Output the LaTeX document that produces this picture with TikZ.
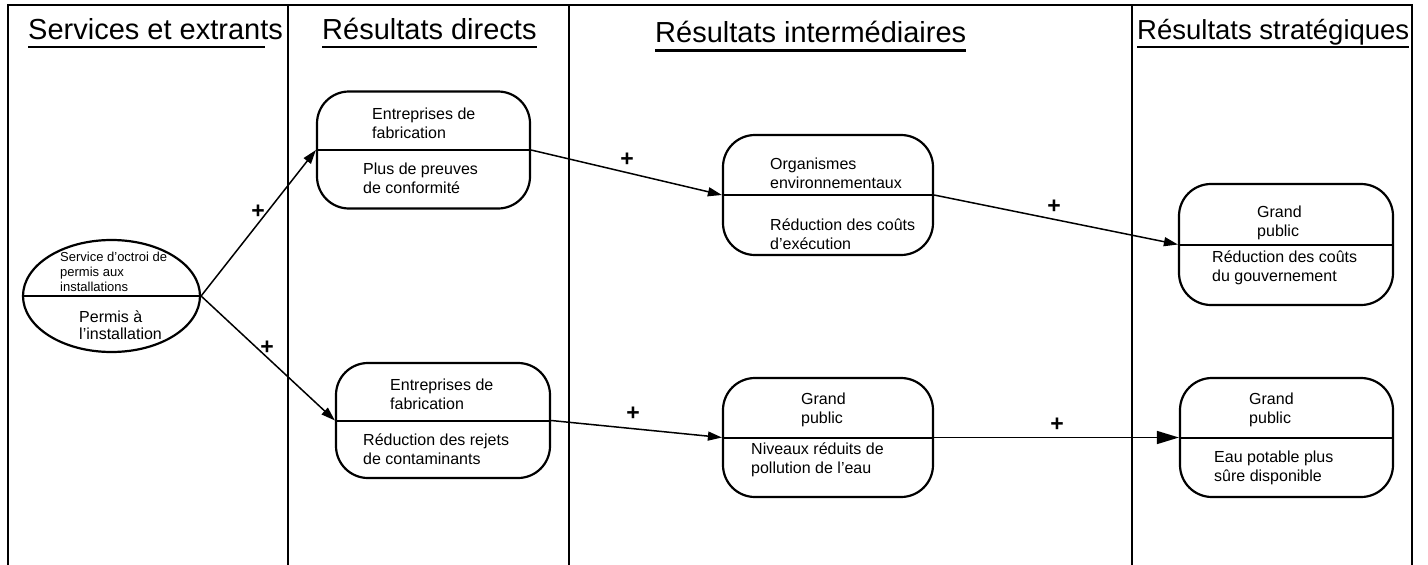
\documentclass[tikz,border=0pt]{standalone}
\usepackage{fontspec}
\setmainfont{Liberation Sans}
\usetikzlibrary{arrows.meta,shapes.geometric}
\begin{document}
\begin{tikzpicture}[x=1pt,y=-1pt,
  frame/.style={line width=1.3pt},
  heading/.style={inner sep=0pt,anchor=base west,font=\fontsize{29}{33}\selectfont},
  uline/.style={line width=2pt},
  outcome/.style={draw,line width=2.2pt,rounded corners=32pt,inner sep=0pt},
  oval/.style={draw,ellipse,line width=2.2pt,inner sep=0pt},
  divider/.style={line width=2pt},
  txt/.style={inner sep=0pt,anchor=west,align=left,font=\fontsize{16}{19}\selectfont},
  smalltxt/.style={inner sep=0pt,anchor=west,align=left,font=\fontsize{13}{15}\selectfont},
  link/.style={line width=1.5pt,-{Triangle[length=14pt,width=9pt]}},
  biglink/.style={line width=1.5pt,-{Triangle[length=22pt,width=13pt]}},
  plus/.style={inner sep=0pt,font=\fontsize{23}{23}\selectfont\bfseries}]
\useasboundingbox (0,0) rectangle (1428,565);

% column frame, open at the bottom
\draw[frame] (8,565) -- (8,5) -- (1412,5) -- (1412,565);
\draw[frame] (288,5) -- (288,565);
\draw[frame] (569,5) -- (569,565);
\draw[frame] (1132,5) -- (1132,565);

% column headings
\node[heading] (h1) at (28,39) {Services et extrants};
\node[heading] (h2) at (322,39) {Résultats directs};
\node[heading] (h3) at (655,42) {Résultats intermédiaires};
\node[heading,font=\fontsize{27.5}{31}\selectfont] (h4) at (1137,39) {Résultats stratégiques};
\draw[uline] ([yshift=-8pt]h1.base west) -- ([xshift=-18pt,yshift=-8pt]h1.base east);
\draw[uline] ([yshift=-8pt]h2.base west) -- ([yshift=-8pt]h2.base east);
\draw[uline,line width=3pt] ([yshift=-8pt]h3.base west) -- ([yshift=-8pt]h3.base east);
\draw[uline] ([yshift=-8pt]h4.base west) -- ([yshift=-8pt]h4.base east);

% service / output
\node[oval,minimum width=177pt,minimum height=112pt] (svc) at (111.5,296) {};
\draw[divider] (svc.west) -- (svc.east);
\node[smalltxt] (svct) at (60,272) {Service d’octroi de\\permis aux\\installations};
\node[txt,font=\fontsize{16}{17}\selectfont] (svcb) at (79,325.5) {Permis à\\l’installation};

% direct outcomes
\node[outcome,minimum width=213pt,minimum height=117pt] (d1) at (423.5,150) {};
\draw[divider] (d1.west) -- (d1.east);
\node[txt] (d1t) at (372,123) {Entreprises de\\fabrication};
\node[txt] (d1b) at (363,178) {Plus de preuves\\de conformité};

\node[outcome,minimum width=214pt,minimum height=115pt] (d2) at (443,420.5) {};
\draw[divider] (d2.west) -- (d2.east);
\node[txt] (d2t) at (390,394) {Entreprises de\\fabrication};
\node[txt] (d2b) at (363,449) {Réduction des rejets\\de contaminants};

% intermediate outcomes
\node[outcome,minimum width=210pt,minimum height=120pt] (i1) at (828,195) {};
\draw[divider] (i1.west) -- (i1.east);
\node[txt] (i1t) at (770,173) {Organismes\\environnementaux};
\node[txt] (i1b) at (770,234) {Réduction des coûts\\d’exécution};

\node[outcome,minimum width=210pt,minimum height=119pt] (i2) at (828,437.5) {};
\draw[divider] (i2.west) -- (i2.east);
\node[txt] (i2t) at (801,410) {Grand\\public};
\node[txt] (i2b) at (751,460) {Niveaux réduits de\\pollution de l’eau};

% strategic outcomes
\node[outcome,minimum width=214pt,minimum height=121pt] (s1) at (1286,244.5) {};
\draw[divider] (s1.west) -- (s1.east);
\node[txt] (s1t) at (1257,223) {Grand\\public};
\node[txt] (s1b) at (1212,268) {Réduction des coûts\\du gouvernement};

\node[outcome,minimum width=213pt,minimum height=119pt] (s2) at (1286.5,437.5) {};
\draw[divider] (s2.west) -- (s2.east);
\node[txt] (s2t) at (1249,410) {Grand\\public};
\node[txt] (s2b) at (1214,468) {Eau potable plus\\sûre disponible};

% positive links
\draw[link] (svc.east) -- (d1.west);
\draw[link] (svc.east) -- (d2.west);
\draw[link] (d1.east) -- (i1.west);
\draw[link] (i1.east) -- (s1.west);
\draw[link] (d2.east) -- (i2.west);
\draw[biglink] (i2.east) -- (s2.west);

\node[plus] (p1) at (258,212) {+};
\node[plus] (p2) at (267,348) {+};
\node[plus] (p3) at (627,160) {+};
\node[plus] (p4) at (1054,207) {+};
\node[plus] (p5) at (633,414) {+};
\node[plus] (p6) at (1057,425) {+};
\end{tikzpicture}
\end{document}
